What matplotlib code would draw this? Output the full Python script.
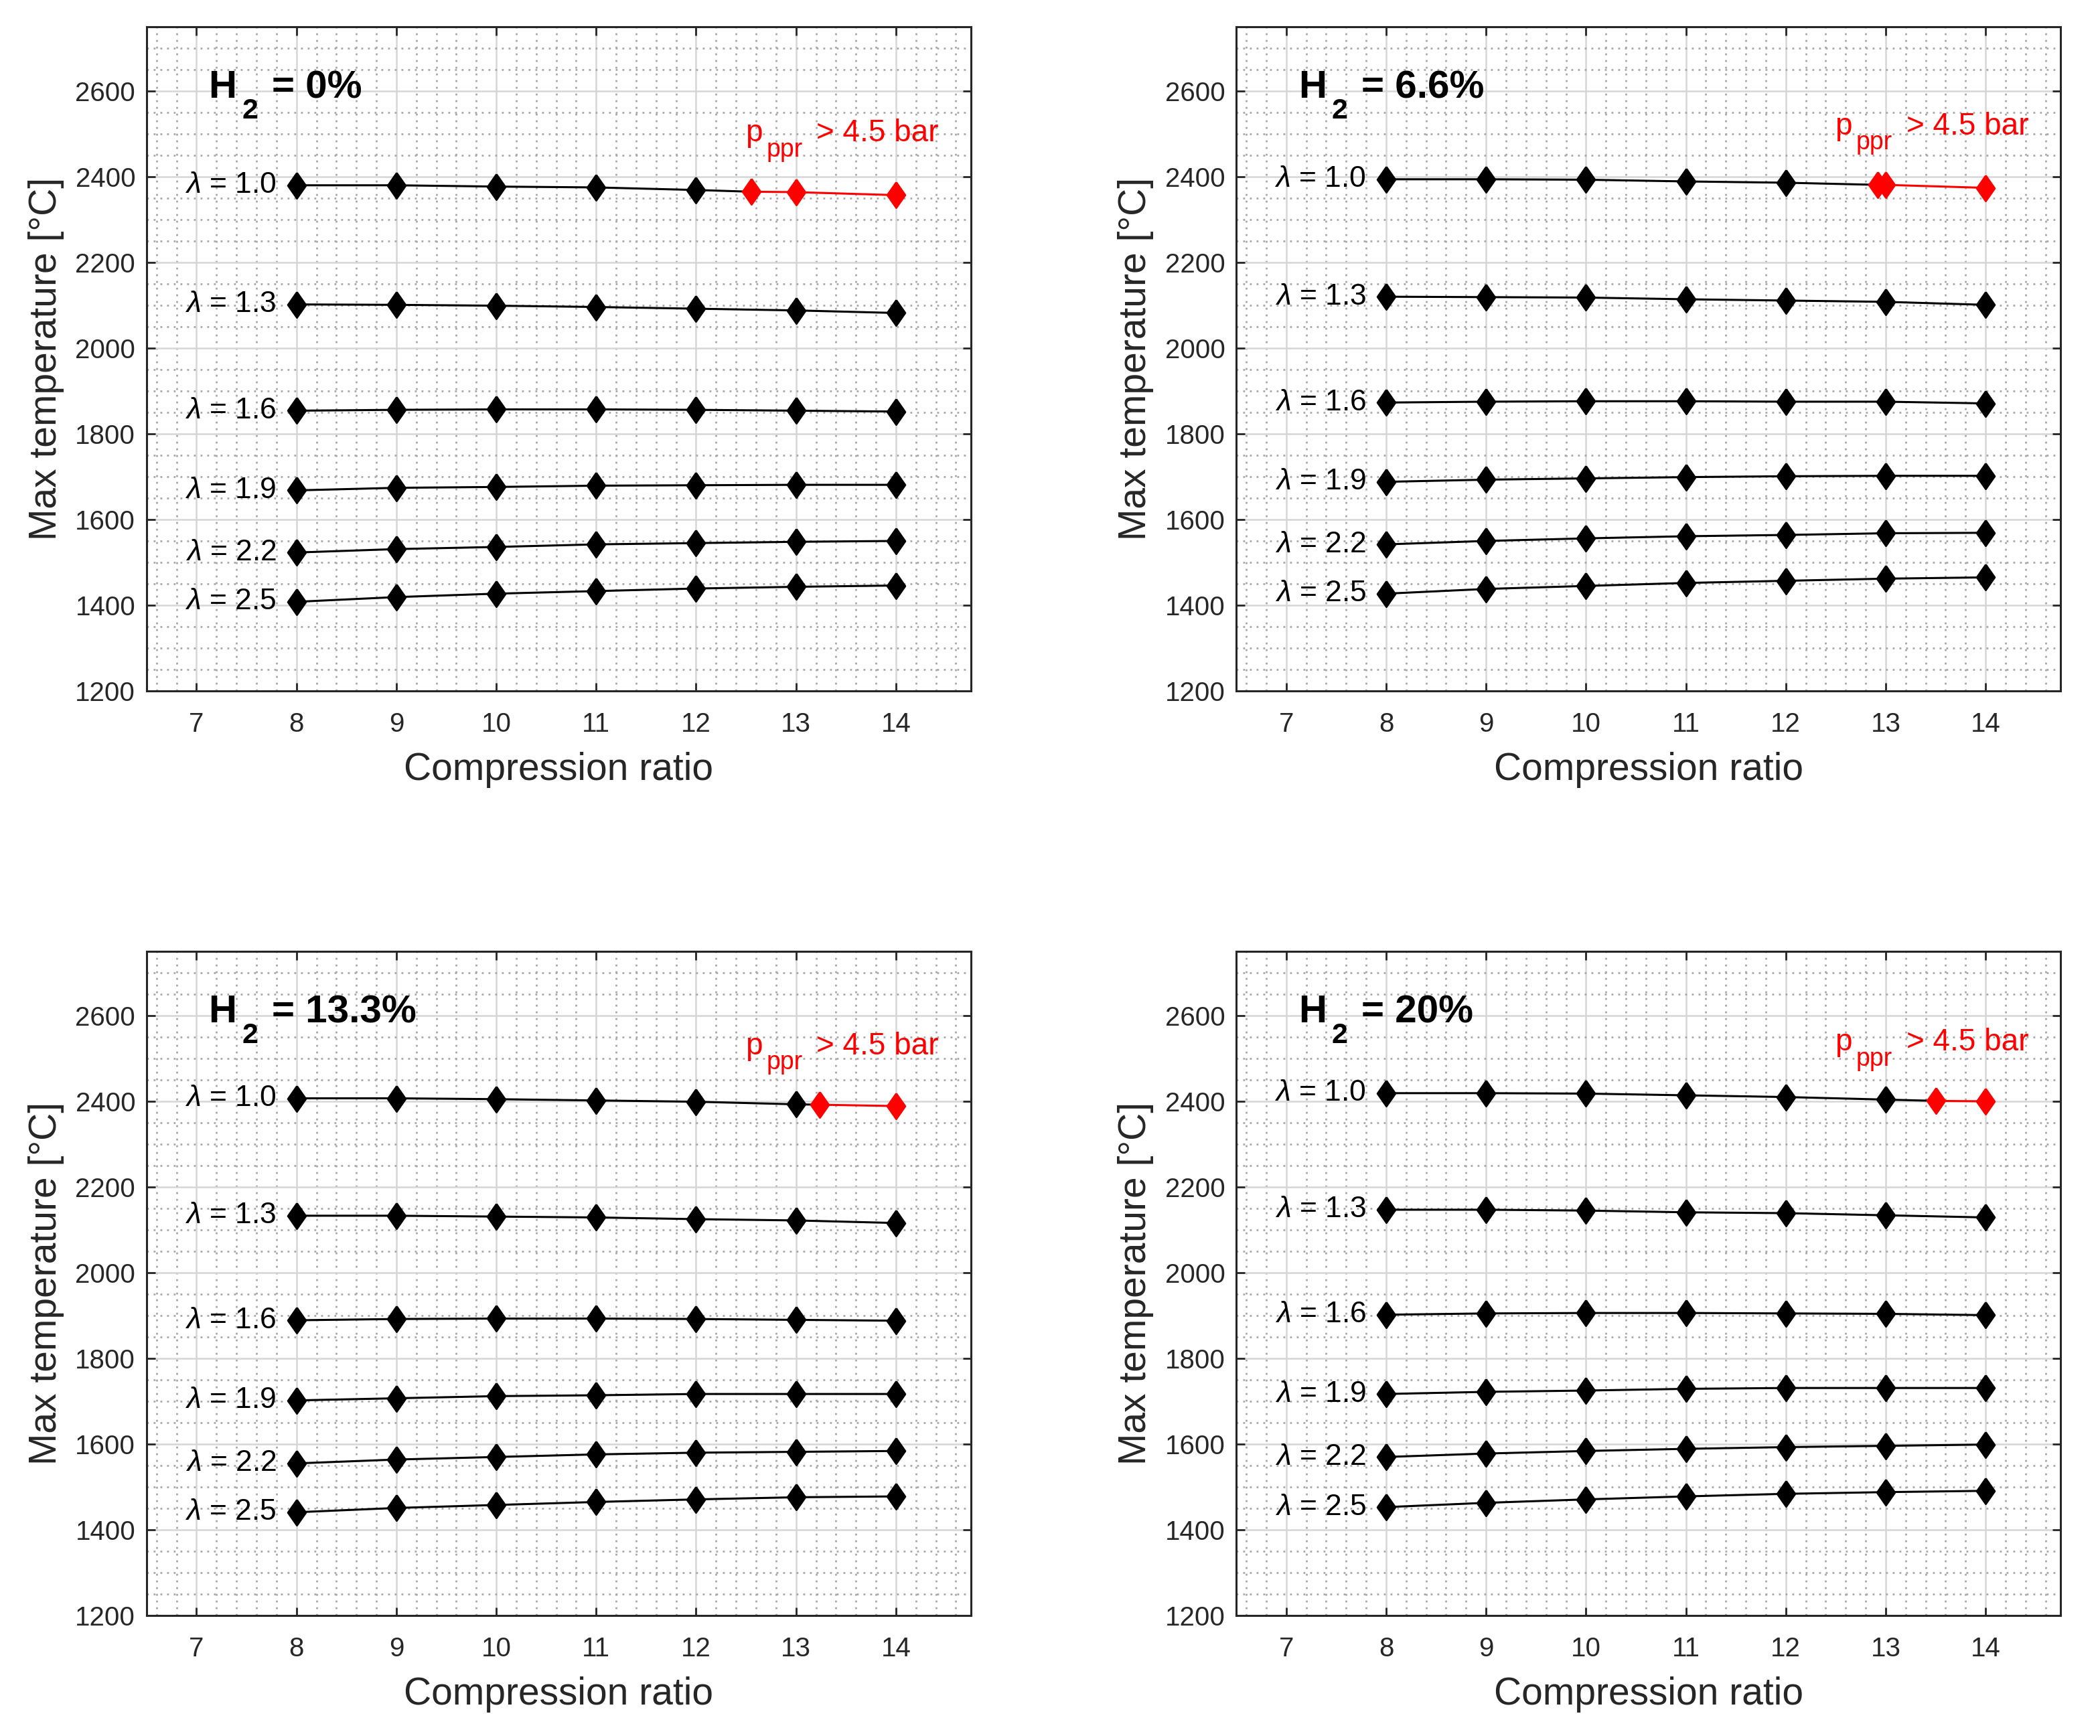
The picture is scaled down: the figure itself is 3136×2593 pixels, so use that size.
import numpy as np
import matplotlib.pyplot as plt
import matplotlib.transforms as mtransforms
from matplotlib.ticker import MultipleLocator

plt.rcParams['font.family'] = ['Liberation Sans', 'DejaVu Sans']
plt.rcParams['mathtext.fontset'] = 'custom'
plt.rcParams['mathtext.rm'] = 'Liberation Sans'
plt.rcParams['mathtext.it'] = 'Liberation Sans:italic'
plt.rcParams['mathtext.bf'] = 'Liberation Sans:bold'

# Compression ratios and air-fuel ratios
cr = np.array([8, 9, 10, 11, 12, 13, 14])
lambdas = ["1.0", "1.3", "1.6", "1.9", "2.2", "2.5"]

# Max temperature [°C], one row per lambda
T_h2_00 = [[2380, 2380, 2377, 2375, 2369, 2364, 2357],
           [2102, 2101, 2099, 2096, 2092, 2088, 2082],
           [1854, 1856, 1857, 1857, 1856, 1854, 1852],
           [1668, 1674, 1676, 1679, 1680, 1681, 1681],
           [1523, 1531, 1536, 1542, 1545, 1548, 1550],
           [1408, 1419, 1427, 1433, 1439, 1443, 1446]]
T_h2_66 = [[2394, 2394, 2393, 2389, 2386, 2381, 2374],
           [2120, 2119, 2118, 2114, 2111, 2108, 2101],
           [1873, 1875, 1876, 1876, 1875, 1875, 1871],
           [1688, 1693, 1696, 1699, 1701, 1702, 1702],
           [1542, 1550, 1556, 1561, 1564, 1568, 1569],
           [1427, 1438, 1445, 1452, 1457, 1462, 1465]]
T_h2_133 = [[2407, 2407, 2405, 2402, 2399, 2393, 2389],
            [2133, 2133, 2131, 2129, 2125, 2122, 2116],
            [1889, 1892, 1893, 1893, 1892, 1890, 1888],
            [1702, 1707, 1712, 1714, 1717, 1717, 1717],
            [1555, 1564, 1570, 1576, 1580, 1582, 1584],
            [1441, 1451, 1458, 1465, 1471, 1476, 1478]]
T_h2_20 = [[2419, 2419, 2418, 2414, 2410, 2404, 2400],
           [2147, 2147, 2145, 2141, 2139, 2134, 2129],
           [1902, 1905, 1906, 1906, 1905, 1904, 1901],
           [1717, 1722, 1725, 1729, 1731, 1731, 1731],
           [1570, 1578, 1584, 1589, 1593, 1596, 1599],
           [1453, 1463, 1471, 1478, 1484, 1488, 1491]]

# point where peak pressure exceeds 4.5 bar (lambda = 1.0)
limit_cr = [12.55, 12.92, 13.24, 13.5]
limit_T = [2365, 2381, 2392, 2401]

titles = ["0%", "6.6%", "13.3%", "20%"]
panels = [T_h2_00, T_h2_66, T_h2_133, T_h2_20]

diamond = [(0, 1), (0.7, 0), (0, -1), (-0.7, 0), (0, 1)]
ms = 13.8

fig = plt.figure(figsize=(15.68, 12.965), dpi=200)
renderer = fig.canvas.get_renderer()
w, h = 0.3925, 0.3826
pos = [[0.0698, 0.602], [0.5887, 0.602], [0.0698, 0.0694], [0.5887, 0.0694]]
dark = '#262626'


def sub_text(ax, x, y, pieces, **kw):
    # pieces: (text, fontsize, baseline shift in pt, gap before in pt)
    dx = 0
    for s, size, dy, gap in pieces:
        dx += gap
        tr = mtransforms.offset_copy(ax.transData, fig=fig, x=dx, y=dy, units='points')
        t = ax.text(x, y, s, transform=tr, fontsize=size, ha='left', va='baseline', **kw)
        dx += t.get_window_extent(renderer).width * 72 / fig.dpi


for i in range(4):
    ax = fig.add_axes([pos[i][0], pos[i][1], w, h])
    ax.set_xlim(6.5, 14.75)
    ax.set_ylim(1200, 2750)
    data = panels[i]

    for j, lam in enumerate(lambdas):
        T = np.array(data[j])
        if j == 0:
            xl, Tl = limit_cr[i], limit_T[i]
            m = cr < xl
            ax.plot(list(cr[m]) + [xl], list(T[m]) + [Tl], color='k', lw=1.1, zorder=3)
            ax.plot(cr[m], T[m], ls='none', marker=diamond, ms=ms, color='k', zorder=4)
            ax.plot([xl] + list(cr[~m]), [Tl] + list(T[~m]), color='red', lw=1.1,
                    marker=diamond, ms=ms, zorder=5)
            sub_text(ax, 12.49, Tl + 117,
                     [("p", 16.5, 0, 0), ("ppr", 13.5, -8, 2.3), ("> 4.5 bar", 16.5, 0, 7.5)],
                     color='red')
        else:
            ax.plot(cr, T, color='k', lw=1.1, marker=diamond, ms=ms, zorder=4)
        ax.text(7.8, T[0], r"$\mathit{\lambda}$ = " + lam, fontsize=16,
                ha='right', va='center')

    sub_text(ax, 7.12, 2584,
             [("H", 21, 0, 0), ("2", 15.5, -11, 2.8), ("= " + titles[i], 21, 0, 7.5)],
             color='k', fontweight='bold')

    ax.xaxis.set_major_locator(MultipleLocator(1))
    ax.xaxis.set_minor_locator(MultipleLocator(0.2))
    ax.yaxis.set_major_locator(MultipleLocator(200))
    ax.yaxis.set_minor_locator(MultipleLocator(50))
    ax.grid(which='major', color='#d6d6d6', lw=0.9, ls='-')
    ax.grid(which='minor', color='#a8a8a8', lw=1.0, ls=(0, (1, 2.6)))
    ax.set_axisbelow(True)
    ax.tick_params(which='major', direction='in', length=4.5, width=1,
                   top=True, right=True, labelsize=14.5, colors=dark)
    ax.tick_params(axis='x', which='major', pad=11)
    ax.tick_params(axis='y', which='major', pad=6)
    ax.tick_params(which='minor', length=0)
    for s in ax.spines.values():
        s.set_color(dark)
        s.set_linewidth(1.1)

    ax.set_xlabel("Compression ratio", fontsize=20.5, color=dark, labelpad=8)
    ax.set_ylabel("Max temperature [°C]", fontsize=20.5, color=dark, labelpad=6)

fig.savefig("out.png", dpi=200)
